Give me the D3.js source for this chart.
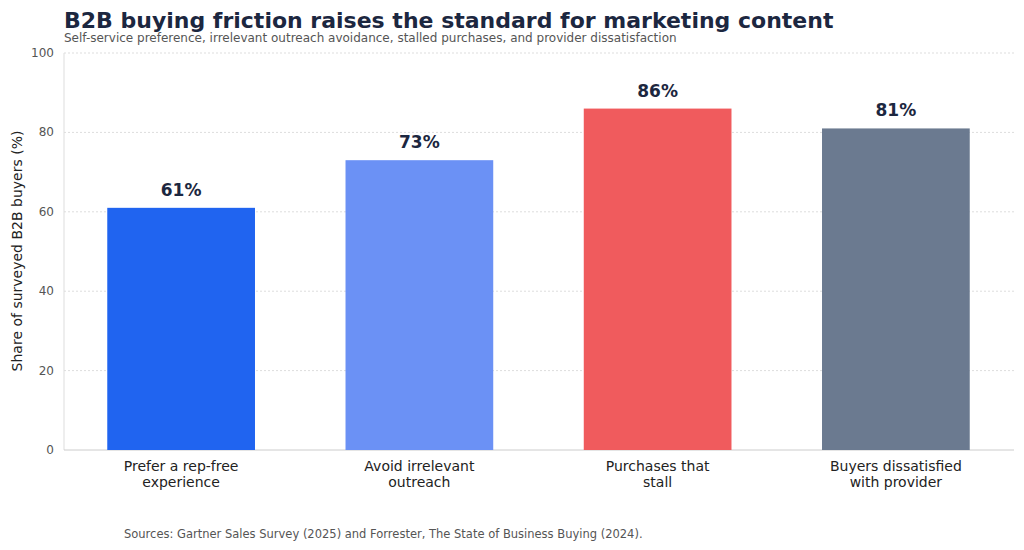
<!DOCTYPE html>
<html><head><meta charset="utf-8">
<script src="https://cdn.jsdelivr.net/npm/d3@7"></script>
<style>body{margin:0;background:#fff;font-family:"DejaVu Sans",sans-serif}</style>
</head><body><svg id="chart" width="1024" height="550"></svg>
<script>
var categories = [["Prefer a rep-free", "experience"], ["Avoid irrelevant", "outreach"], ["Purchases that", "stall"], ["Buyers dissatisfied", "with provider"]];
var values = [61, 73, 86, 81];
var colors = ["#2064f0", "#6b91f5", "#f05b5d", "#6b7a90"];
var yTicks = [0, 20, 40, 60, 80, 100];

var svg = d3.select('#chart');
var x = d3.scaleBand().domain(d3.range(values.length)).range([62, 1015]).paddingInner(0.38).paddingOuter(0.19);
var y = d3.scaleLinear().domain([0, 100]).range([450, 53]);

svg.append('text').attr('x', 64).attr('y', 28).attr('font-size', 22).attr('font-weight', 'bold')
    .attr('fill', '#1c2740').text('B2B buying friction raises the standard for marketing content');
svg.append('text').attr('x', 64).attr('y', 42).attr('font-size', 12).attr('fill', '#555')
    .text('Self-service preference, irrelevant outreach avoidance, stalled purchases, and provider dissatisfaction');

// grid
svg.selectAll('.grid').data(yTicks.slice(1)).enter().append('line')
    .attr('x1', 64).attr('x2', 1014).attr('y1', d => y(d)).attr('y2', d => y(d))
    .attr('stroke', '#ddd').attr('stroke-dasharray', '2,2');
svg.append('line').attr('x1', 64).attr('x2', 64).attr('y1', 53).attr('y2', 450).attr('stroke', '#ddd');
svg.append('line').attr('x1', 64).attr('x2', 1014).attr('y1', 450).attr('y2', 450).attr('stroke', '#ccc');

svg.selectAll('.yt').data(yTicks).enter().append('text')
    .attr('x', 54).attr('y', d => y(d) + 4).attr('text-anchor', 'end')
    .attr('font-size', 12).attr('fill', '#555').text(d => d);
svg.append('text').attr('transform', 'translate(22,251) rotate(-90)').attr('text-anchor', 'middle')
    .attr('font-size', 14).attr('fill', '#222').text('Share of surveyed B2B buyers (%)');

svg.selectAll('.bar').data(values).enter().append('rect')
    .attr('x', (d, i) => x(i)).attr('width', x.bandwidth())
    .attr('y', d => y(d)).attr('height', d => y(0) - y(d)).attr('fill', (d, i) => colors[i]);
svg.selectAll('.lbl').data(values).enter().append('text')
    .attr('x', (d, i) => x(i) + x.bandwidth() / 2).attr('y', d => y(d) - 12)
    .attr('text-anchor', 'middle').attr('font-size', 17).attr('font-weight', 'bold')
    .attr('fill', '#1c2740').text(d => d + '%');

categories.forEach(function (c, i) {
    c.forEach(function (line, j) {
        svg.append('text').attr('x', x(i) + x.bandwidth() / 2).attr('y', 471 + j * 16)
            .attr('text-anchor', 'middle').attr('font-size', 14).attr('fill', '#222').text(line);
    });
});

svg.append('text').attr('x', 124).attr('y', 538).attr('font-size', 11.5).attr('fill', '#555')
    .text('Sources: Gartner Sales Survey (2025) and Forrester, The State of Business Buying (2024).');
</script></body></html>
